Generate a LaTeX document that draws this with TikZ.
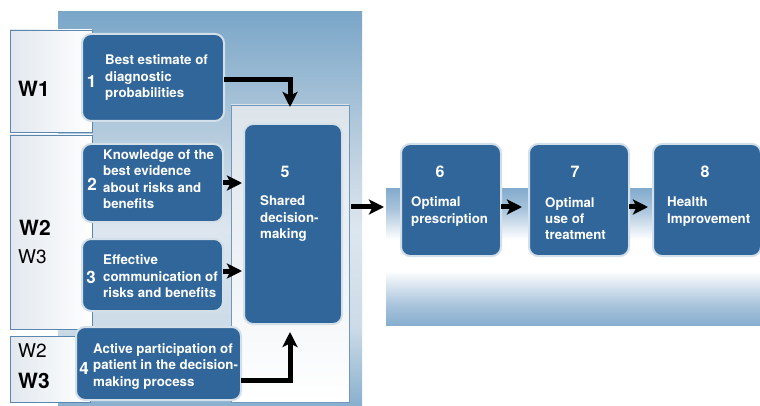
\documentclass[tikz,border=0pt]{standalone}
\usepackage{fontspec}
\setmainfont{TeX Gyre Heros}
\usetikzlibrary{arrows.meta,calc}

\definecolor{boxblue}{HTML}{30669A}
\definecolor{boxedge}{HTML}{D3E0EA}
\definecolor{frameedge}{HTML}{6F98BC}
\definecolor{frametop}{HTML}{DCE4EA}
\definecolor{wedge}{HTML}{5A87B0}
\definecolor{wfill}{HTML}{E2E8EE}
\definecolor{pA}{HTML}{7AA6C8}
\definecolor{pB}{HTML}{B3CADC}
\definecolor{pC}{HTML}{DDE6EE}
\definecolor{pD}{HTML}{CCDBE7}
\definecolor{pE}{HTML}{88AFCE}
\definecolor{bA}{HTML}{84ACCE}
\definecolor{bB}{HTML}{A9C4DC}
\definecolor{bC}{HTML}{87AECF}

% left panel: blue at the top, pale in the middle, blue again at the foot
\pgfdeclareverticalshading{panelshade}{100bp}{%
  color(0bp)=(pE); color(25bp)=(pE); color(35bp)=(pD);
  color(47.5bp)=(pC); color(60bp)=(pB); color(75bp)=(pA); color(100bp)=(pA)}
% outcome band: blue edges with a white plateau
\pgfdeclareverticalshading{bandshade}{100bp}{%
  color(0bp)=(bC); color(25bp)=(bC); color(32.5bp)=(bB);
  color(45bp)=(white); color(56.5bp)=(white); color(67.5bp)=(bB);
  color(75bp)=(bA); color(100bp)=(bA)}

% multi-line texts are placed by the baseline of their last line
\tikzset{
  box/.style={draw=boxedge, line width=2pt, fill=boxblue, rounded corners=9pt,
    inner sep=0pt, outer sep=0pt, anchor=north west},
  wbox/.style={draw=wedge, line width=0.8pt, left color=wfill,
    right color=white, inner sep=0pt, outer sep=0pt, anchor=north west},
  txt/.style={text=white, font=\fontsize{13.3}{16.3}\selectfont\bfseries,
    align=left, anchor=base west, inner sep=0pt},
  num/.style={text=white, font=\fontsize{17}{17}\selectfont\bfseries,
    anchor=base, inner sep=0pt},
  bignum/.style={text=white, font=\fontsize{16}{16}\selectfont\bfseries,
    anchor=base, inner sep=0pt},
  wbold/.style={font=\fontsize{21}{21}\selectfont\bfseries, anchor=base west, inner sep=0pt},
  wreg/.style={font=\fontsize{19}{19}\selectfont, anchor=base west, inner sep=0pt},
  arr/.style={line width=5pt, -{Stealth[length=15pt,width=15pt,inset=3.5pt]}},
}

\begin{document}
\begin{tikzpicture}[x=1pt,y=-1pt]
\useasboundingbox (0,0) rectangle (760,406);

% backgrounds
\path[shading=panelshade] (58,12) rectangle (362,406);
\path[shading=bandshade] (386,189) rectangle (760,325);

% W columns
\node[wbox, minimum width=82pt, minimum height=102pt] (wa) at (10,30) {};
\node[wbox, minimum width=82pt, minimum height=194pt] (wb) at (10,135) {};
\node[wbox, minimum width=80pt, minimum height=66pt] (wc) at (10,336) {};

% frame around shared decision-making
\node[draw=frameedge, line width=0.8pt, top color=frametop, bottom color=white,
  inner sep=0pt, outer sep=0pt, anchor=north west,
  minimum width=118pt, minimum height=297pt] (f5) at (231,105) {};

% process boxes
\node[box, minimum width=142pt, minimum height=87pt] (b1) at (82,34) {};
\node[box, minimum width=141pt, minimum height=78pt] (b2) at (82,144) {};
\node[box, minimum width=141pt, minimum height=72pt] (b3) at (82,239) {};
\node[box, minimum width=165pt, minimum height=73pt] (b4) at (76,327) {};
\node[box, minimum width=98pt, minimum height=200pt] (b5) at (244,124) {};
\node[box, minimum width=100pt, minimum height=112pt] (b6) at (401,144) {};
\node[box, minimum width=100pt, minimum height=112pt] (b7) at (529,144) {};
\node[box, minimum width=108pt, minimum height=112pt] (b8) at (653,144) {};

% W labels
\node[wbold] (w1) at (18,97) {W1};
\node[wbold] (w2a) at (19,236) {W2};
\node[wreg] (w3a) at (18,263) {W3};
\node[wreg] (w2b) at (18,357) {W2};
\node[wbold] (w3b) at (18,388) {W3};

% box texts
\node[num] (n1) at (91.5,88) {1};
\node[txt] (t1) at (105,97.6) {Best estimate of\\diagnostic\\probabilities};
\node[num] (n2) at (92,190) {2};
\node[txt] (t2) at (103,208.5) {Knowledge of the\\best evidence\\about risks and\\benefits};
\node[num] (n3) at (91,283) {3};
\node[txt] (t3) at (103,297.4) {Effective\\communication of\\risks and benefits};
\node[num] (n4) at (84,374) {4};
\node[txt] (t4) at (93,386) {Active participation of\\patient in the decision-\\making process};
\node[bignum] (n5) at (285,178) {5};
\node[txt] (t5) at (260,238.5) {Shared\\decision-\\making};
\node[bignum] (n6) at (440,178) {6};
\node[txt] (t6) at (411,223) {Optimal\\prescription};
\node[bignum] (n7) at (575,178) {7};
\node[txt] (t7) at (545,239.6) {Optimal\\use of\\treatment};
\node[bignum] (n8) at (705,178) {8};
\node[txt] (t8) at (667,223) {Health\\Improvement};

% connectors
\coordinate (k1) at (290,80);
\coordinate (k4) at (290,380);
\coordinate (a3) at ($(b3.east)+(0,-4)$);
\coordinate (lv) at (0,207);
\draw[arr] (b1.east |- k1) -- (k1) -- ($(k1 |- f5.north)+(0,2)$);
\draw[arr] (b4.east |- k4) -- (k4) -- ($(k4 |- b5.south)+(0,8)$);
\draw[arr, shorten >=2pt] (b2.east) -- (b2.east -| b5.west);
\draw[arr, shorten >=2pt] (a3) -- (a3 -| b5.west);
\draw[arr, shorten <=2pt, shorten >=17pt] (f5.east |- lv) -- (b6.west |- lv);
\draw[arr, shorten >=7pt] (b6.east |- lv) -- (b7.west |- lv);
\draw[arr, shorten >=5pt] (b7.east |- lv) -- (b8.west |- lv);
\end{tikzpicture}
\end{document}
